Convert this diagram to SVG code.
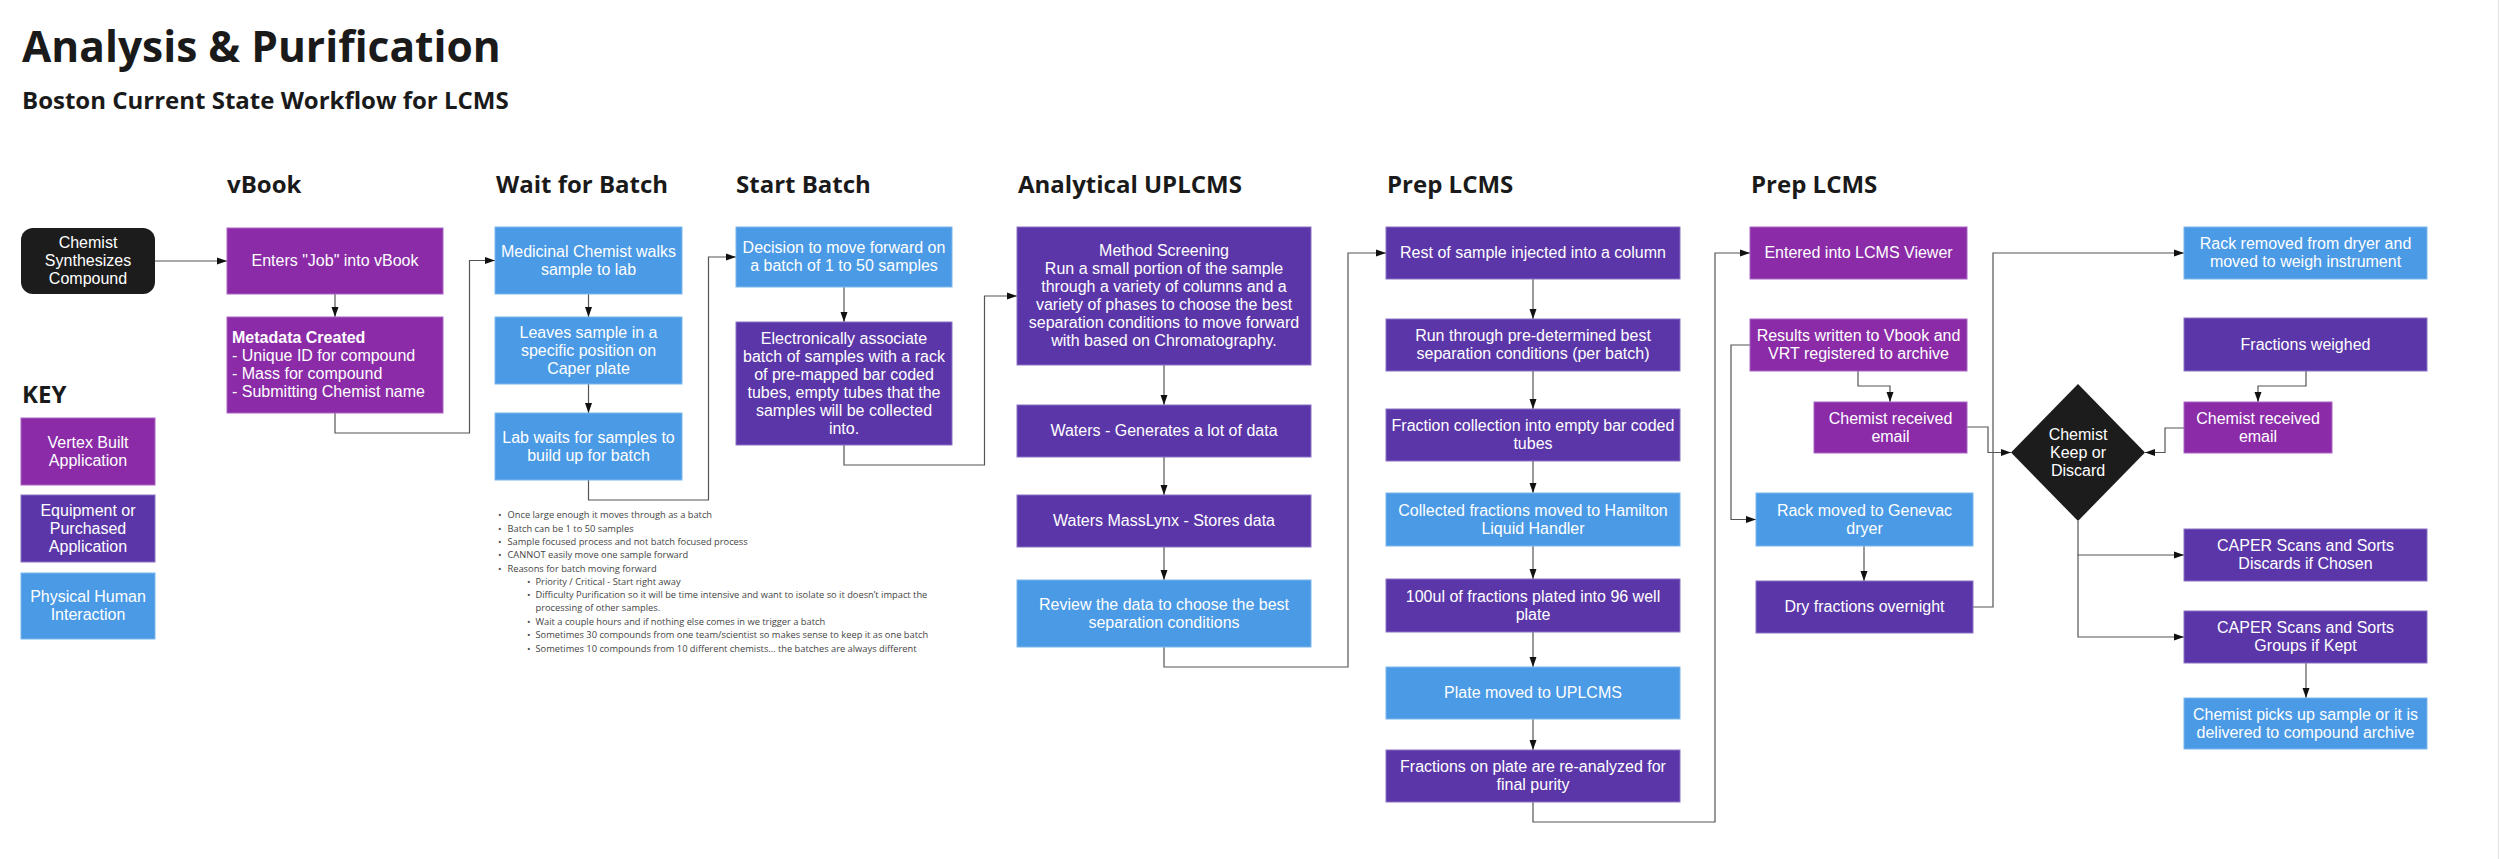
<svg xmlns="http://www.w3.org/2000/svg" width="2500" height="859" viewBox="0 0 2500 859">
<defs>
<marker id="arr" markerUnits="userSpaceOnUse" markerWidth="10" markerHeight="8" refX="10" refY="4" orient="auto">
<path d="M0,0.5 L10,4 L0,7.5 z" fill="#111"/>
</marker>
<style>
.bg{fill:#ffffff}
.v{fill:#8b2ba8;stroke:#a867c4;stroke-width:1}
.e{fill:#5b36a9;stroke:#8a72c8;stroke-width:1}
.h{fill:#4a9ae6;stroke:#7db8ee;stroke-width:1}
.k{fill:#1c1c1c}
.t{font-family:"Liberation Sans",Arial,sans-serif;font-size:16px;fill:#ffffff;text-anchor:middle}
.tl{font-family:"Liberation Sans",Arial,sans-serif;font-size:16px;fill:#ffffff}
.hd{font-family:"Open Sans",sans-serif;font-weight:700;font-size:24px;fill:#1a1a1a}
.ttl{font-family:"Open Sans",sans-serif;font-weight:700;font-size:42.5px;fill:#1a1a1a}
.sub{font-family:"Open Sans",sans-serif;font-weight:700;font-size:24px;fill:#1a1a1a}
.bl{font-family:"Open Sans",sans-serif;font-size:9.3px;fill:#444444}
.c path{fill:none;stroke:#555555;stroke-width:1.2}
</style>
</defs>
<rect class="bg" x="0" y="0" width="2500" height="859"/>
<line x1="2498.5" y1="0" x2="2498.5" y2="859" stroke="#e2e2e2" stroke-width="1"/>

<g id="titles">
<text class="ttl" x="22" y="62">Analysis &amp; Purification</text>
<text class="sub" x="22" y="109">Boston Current State Workflow for LCMS</text>
<text class="hd" x="227" y="193">vBook</text>
<text class="hd" x="496" y="193">Wait for Batch</text>
<text class="hd" x="736" y="193">Start Batch</text>
<text class="hd" x="1018" y="193">Analytical UPLCMS</text>
<text class="hd" x="1387" y="193">Prep LCMS</text>
<text class="hd" x="1751" y="193">Prep LCMS</text>
<text class="hd" x="22" y="403">KEY</text>
</g>

<g id="key">
<g id="key-vertex"><rect class="v" x="21" y="418" width="134" height="67"/>
<text class="t" x="88" y="447.5"><tspan x="88">Vertex Built</tspan><tspan x="88" dy="18">Application</tspan></text></g>
<g id="key-equipment"><rect class="e" x="21" y="495" width="134" height="67"/>
<text class="t" x="88" y="515.5"><tspan x="88">Equipment or</tspan><tspan x="88" dy="18">Purchased</tspan><tspan x="88" dy="18">Application</tspan></text></g>
<g id="key-human"><rect class="h" x="21" y="573" width="134" height="66"/>
<text class="t" x="88" y="602"><tspan x="88">Physical Human</tspan><tspan x="88" dy="18">Interaction</tspan></text></g>
</g>

<g id="notes" class="bl">
<text x="498" y="518.3">•</text><text x="507.5" y="518.3">Once large enough it moves through as a batch</text>
<text x="498" y="531.6">•</text><text x="507.5" y="531.6">Batch can be 1 to 50 samples</text>
<text x="498" y="544.9">•</text><text x="507.5" y="544.9">Sample focused process and not batch focused process</text>
<text x="498" y="558.2">•</text><text x="507.5" y="558.2">CANNOT easily move one sample forward</text>
<text x="498" y="571.5">•</text><text x="507.5" y="571.5">Reasons for batch moving forward</text>
<text x="527" y="584.8">•</text><text x="535.5" y="584.8">Priority / Critical - Start right away</text>
<text x="527" y="598.1">•</text><text x="535.5" y="598.1">Difficulty Purification so it will be time intensive and want to isolate so it doesn’t impact the</text>
<text x="535.5" y="611.4">processing of other samples.</text>
<text x="527" y="624.7">•</text><text x="535.5" y="624.7">Wait a couple hours and if nothing else comes in we trigger a batch</text>
<text x="527" y="638">•</text><text x="535.5" y="638">Sometimes 30 compounds from one team/scientist so makes sense to keep it as one batch</text>
<text x="527" y="651.5">•</text><text x="535.5" y="651.5">Sometimes 10 compounds from 10 different chemists… the batches are always different</text>
</g>

<g id="connectors" class="c">
<path d="M155,261 H227" marker-end="url(#arr)"/>
<path d="M335,294 V317" marker-end="url(#arr)"/>
<path d="M335,413 V433 H469.5 V260.5 H495" marker-end="url(#arr)"/>
<path d="M588.5,294 V317" marker-end="url(#arr)"/>
<path d="M588.5,384 V413" marker-end="url(#arr)"/>
<path d="M588.5,480 V500 H708.5 V257 H736" marker-end="url(#arr)"/>
<path d="M844,287 V322" marker-end="url(#arr)"/>
<path d="M844,445 V465 H984.5 V296 H1017" marker-end="url(#arr)"/>
<path d="M1164,365 V405" marker-end="url(#arr)"/>
<path d="M1164,457 V495" marker-end="url(#arr)"/>
<path d="M1164,547 V580" marker-end="url(#arr)"/>
<path d="M1164,647 V667 H1348 V253 H1386" marker-end="url(#arr)"/>
<path d="M1533,279 V319" marker-end="url(#arr)"/>
<path d="M1533,371 V409" marker-end="url(#arr)"/>
<path d="M1533,461 V493" marker-end="url(#arr)"/>
<path d="M1533,546 V579" marker-end="url(#arr)"/>
<path d="M1533,632 V667" marker-end="url(#arr)"/>
<path d="M1533,719 V750" marker-end="url(#arr)"/>
<path d="M1533,802 V822 H1715 V253 H1750" marker-end="url(#arr)"/>
<path d="M1858,371 V386 H1890 V402" marker-end="url(#arr)"/>
<path d="M1750,345 H1731 V519.5 H1756" marker-end="url(#arr)"/>
<path d="M1967,427 H1988 V452.5 H2011" marker-end="url(#arr)"/>
<path d="M1864,546 V581" marker-end="url(#arr)"/>
<path d="M1973,607 H1993 V253 H2184" marker-end="url(#arr)"/>
<path d="M2306,371 V386 H2258 V402" marker-end="url(#arr)"/>
<path d="M2184,428 H2165 V452.5 H2145" marker-end="url(#arr)"/>
<path d="M2078,521 V555 H2184" marker-end="url(#arr)"/>
<path d="M2078,555 V637 H2184" marker-end="url(#arr)"/>
<path d="M2306,663 V698" marker-end="url(#arr)"/>
</g>

<g id="n-chemist"><rect class="k" x="21" y="228" width="134" height="66" rx="12"/>
<text class="t" x="88" y="248"><tspan x="88">Chemist</tspan><tspan x="88" dy="18">Synthesizes</tspan><tspan x="88" dy="18">Compound</tspan></text></g>

<g id="n-enters"><rect class="v" x="227" y="228" width="216" height="66"/>
<text class="t" x="335" y="266">Enters "Job" into vBook</text></g>

<g id="n-metadata"><rect class="v" x="227" y="317" width="216" height="96"/>
<text class="tl" x="232" y="342.5"><tspan x="232" font-weight="700">Metadata Created</tspan><tspan x="232" dy="18">- Unique ID for compound</tspan><tspan x="232" dy="18">- Mass for compound</tspan><tspan x="232" dy="18">- Submitting Chemist name</tspan></text></g>

<g id="n-medicinal"><rect class="h" x="495" y="227" width="187" height="67"/>
<text class="t" x="588.5" y="256.5"><tspan x="588.5">Medicinal Chemist walks</tspan><tspan x="588.5" dy="18">sample to lab</tspan></text></g>

<g id="n-leaves"><rect class="h" x="495" y="317" width="187" height="67"/>
<text class="t" x="588.5" y="337.5"><tspan x="588.5">Leaves sample in a</tspan><tspan x="588.5" dy="18">specific position on</tspan><tspan x="588.5" dy="18">Caper plate</tspan></text></g>

<g id="n-labwaits"><rect class="h" x="495" y="413" width="187" height="67"/>
<text class="t" x="588.5" y="442.5"><tspan x="588.5">Lab waits for samples to</tspan><tspan x="588.5" dy="18">build up for batch</tspan></text></g>

<g id="n-decision"><rect class="h" x="736" y="227" width="216" height="60"/>
<text class="t" x="844" y="253"><tspan x="844">Decision to move forward on</tspan><tspan x="844" dy="18">a batch of 1 to 50 samples</tspan></text></g>

<g id="n-associate"><rect class="e" x="736" y="322" width="216" height="123"/>
<text class="t" x="844" y="343.5"><tspan x="844">Electronically associate</tspan><tspan x="844" dy="18">batch of samples with a rack</tspan><tspan x="844" dy="18">of pre-mapped bar coded</tspan><tspan x="844" dy="18">tubes, empty tubes that the</tspan><tspan x="844" dy="18">samples will be collected</tspan><tspan x="844" dy="18">into.</tspan></text></g>

<g id="n-method"><rect class="e" x="1017" y="227" width="294" height="138"/>
<text class="t" x="1164" y="256"><tspan x="1164">Method Screening</tspan><tspan x="1164" dy="18">Run a small portion of the sample</tspan><tspan x="1164" dy="18">through a variety of columns and a</tspan><tspan x="1164" dy="18">variety of phases to choose the best</tspan><tspan x="1164" dy="18">separation conditions to move forward</tspan><tspan x="1164" dy="18">with based on Chromatography.</tspan></text></g>

<g id="n-waters"><rect class="e" x="1017" y="405" width="294" height="52"/>
<text class="t" x="1164" y="436">Waters - Generates a lot of data</text></g>

<g id="n-masslynx"><rect class="e" x="1017" y="495" width="294" height="52"/>
<text class="t" x="1164" y="526">Waters MassLynx - Stores data</text></g>

<g id="n-review"><rect class="h" x="1017" y="580" width="294" height="67"/>
<text class="t" x="1164" y="609.5"><tspan x="1164">Review the data to choose the best</tspan><tspan x="1164" dy="18">separation conditions</tspan></text></g>

<g id="n-rest"><rect class="e" x="1386" y="227" width="294" height="52"/>
<text class="t" x="1533" y="258">Rest of sample injected into a column</text></g>

<g id="n-runthrough"><rect class="e" x="1386" y="319" width="294" height="52"/>
<text class="t" x="1533" y="341"><tspan x="1533">Run through pre-determined best</tspan><tspan x="1533" dy="18">separation conditions (per batch)</tspan></text></g>

<g id="n-fractioncollection"><rect class="e" x="1386" y="409" width="294" height="52"/>
<text class="t" x="1533" y="431"><tspan x="1533">Fraction collection into empty bar coded</tspan><tspan x="1533" dy="18">tubes</tspan></text></g>

<g id="n-collected"><rect class="h" x="1386" y="493" width="294" height="53"/>
<text class="t" x="1533" y="515.5"><tspan x="1533">Collected fractions moved to Hamilton</tspan><tspan x="1533" dy="18">Liquid Handler</tspan></text></g>

<g id="n-100ul"><rect class="e" x="1386" y="579" width="294" height="53"/>
<text class="t" x="1533" y="601.5"><tspan x="1533">100ul of fractions plated into 96 well</tspan><tspan x="1533" dy="18">plate</tspan></text></g>

<g id="n-platemoved"><rect class="h" x="1386" y="667" width="294" height="52"/>
<text class="t" x="1533" y="698">Plate moved to UPLCMS</text></g>

<g id="n-reanalyzed"><rect class="e" x="1386" y="750" width="294" height="52"/>
<text class="t" x="1533" y="772"><tspan x="1533">Fractions on plate are re-analyzed for</tspan><tspan x="1533" dy="18">final purity</tspan></text></g>

<g id="n-entered"><rect class="v" x="1750" y="227" width="217" height="52"/>
<text class="t" x="1858.5" y="258">Entered into LCMS Viewer</text></g>

<g id="n-results"><rect class="v" x="1750" y="319" width="217" height="52"/>
<text class="t" x="1858.5" y="341"><tspan x="1858.5">Results written to Vbook and</tspan><tspan x="1858.5" dy="18">VRT registered to archive</tspan></text></g>

<g id="n-email1"><rect class="v" x="1814" y="402" width="153" height="51"/>
<text class="t" x="1890.5" y="423.5"><tspan x="1890.5">Chemist received</tspan><tspan x="1890.5" dy="18">email</tspan></text></g>

<g id="n-genevac"><rect class="h" x="1756" y="493" width="217" height="53"/>
<text class="t" x="1864.5" y="515.5"><tspan x="1864.5">Rack moved to Genevac</tspan><tspan x="1864.5" dy="18">dryer</tspan></text></g>

<g id="n-dry"><rect class="e" x="1756" y="581" width="217" height="52"/>
<text class="t" x="1864.5" y="612">Dry fractions overnight</text></g>

<g id="n-decide"><polygon class="k" points="2078,384 2145,452.5 2078,521 2011,452.5"/>
<text class="t" x="2078" y="439.5"><tspan x="2078">Chemist</tspan><tspan x="2078" dy="18">Keep or</tspan><tspan x="2078" dy="18">Discard</tspan></text></g>

<g id="n-rackremoved"><rect class="h" x="2184" y="227" width="243" height="52"/>
<text class="t" x="2305.5" y="249"><tspan x="2305.5">Rack removed from dryer and</tspan><tspan x="2305.5" dy="18">moved to weigh instrument</tspan></text></g>

<g id="n-weighed"><rect class="e" x="2184" y="318" width="243" height="53"/>
<text class="t" x="2305.5" y="349.5">Fractions weighed</text></g>

<g id="n-email2"><rect class="v" x="2184" y="402" width="148" height="51"/>
<text class="t" x="2258" y="423.5"><tspan x="2258">Chemist received</tspan><tspan x="2258" dy="18">email</tspan></text></g>

<g id="n-discards"><rect class="e" x="2184" y="529" width="243" height="52"/>
<text class="t" x="2305.5" y="551"><tspan x="2305.5">CAPER Scans and Sorts</tspan><tspan x="2305.5" dy="18">Discards if Chosen</tspan></text></g>

<g id="n-groups"><rect class="e" x="2184" y="611" width="243" height="52"/>
<text class="t" x="2305.5" y="633"><tspan x="2305.5">CAPER Scans and Sorts</tspan><tspan x="2305.5" dy="18">Groups if Kept</tspan></text></g>

<g id="n-pickup"><rect class="h" x="2184" y="698" width="243" height="51"/>
<text class="t" x="2305.5" y="719.5"><tspan x="2305.5">Chemist picks up sample or it is</tspan><tspan x="2305.5" dy="18">delivered to compound archive</tspan></text></g>
</svg>
